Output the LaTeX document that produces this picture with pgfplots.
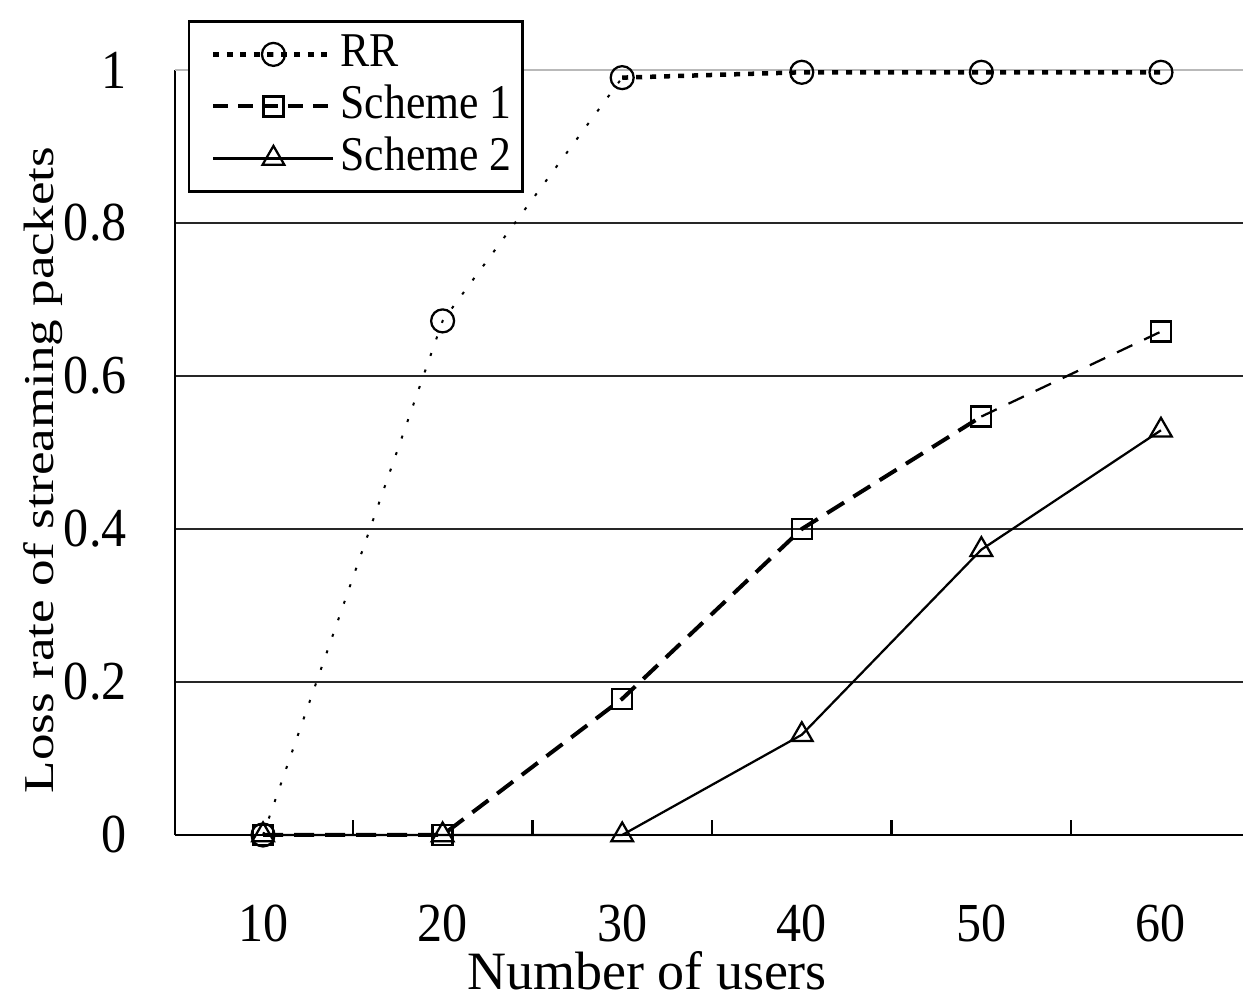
\documentclass[border=0pt]{standalone}
\usepackage{pgfplots}
\pgfplotsset{compat=1.18}
\usepackage{fontspec}
\setmainfont{Liberation Serif}
\newfontfamily\tickfont[FakeStretch=0.91]{Liberation Serif}
\newfontfamily\legfont[FakeStretch=0.9]{Liberation Serif}
\newfontfamily\ylabfont[FakeStretch=1.25]{Liberation Serif}
\begin{document}
\fontsize{10.8}{12}\selectfont
\begin{tikzpicture}
\begin{axis}[
  scale only axis, width=213.6pt, height=153pt,
  xmin=5.1, xmax=64.57, ymin=0, ymax=1,
  clip=false,
  axis x line*=bottom, axis y line*=left,
  axis line style={line width=0.45pt, black, -},
  xtick={10,20,30,40,50,60},
  minor xtick={15,25,35,45,55},
  major tick length=0pt, minor tick length=3pt, tick align=inside,
  minor tick style={line width=0.45pt, black},
  ytick={0,0.2,0.4,0.6,0.8},
  extra y ticks={1},
  extra y tick style={major grid style={gray!55, line width=0.45pt}},
  ymajorgrids,
  major grid style={black!85, line width=0.45pt},
  /pgf/number format/assume math mode=true,
  tick label style={font=\tickfont\fontsize{11}{12}\selectfont},
  yticklabel style={xshift=-5.9pt},
  xticklabel style={yshift=-10.2pt},
  xlabel={Number of users},
  xlabel style={at={(axis description cs:0.442,-0.2026)}, anchor=base, inner sep=0pt},
  ylabel={Loss rate of streaming packets},
  ylabel style={at={(axis description cs:-0.1142,0.477)}, anchor=base, inner sep=0pt,
    font=\ylabfont\fontsize{8.5}{10}\selectfont},
  legend style={at={(rel axis cs:0.0122,1.065)}, anchor=north west,
    draw=black, line width=0.45pt, font=\legfont\fontsize{9.7}{11}\selectfont,
    inner xsep=1.2pt, inner ysep=1.4pt,
    nodes={inner ysep=0.2pt, inner xsep=1pt, text height=7.4pt, text depth=2.6pt}},
  legend cell align=left,
  legend image code/.code={\path (0pt,0pt) (27.2pt,0pt);\draw[mark repeat=2,mark phase=2,#1] plot coordinates {(3.2pt,0pt)(15.2pt,0pt)(27.2pt,0pt)};},
]
\addlegendimage{black, line width=0.9pt, dash pattern=on 1.2pt off 1.5pt, mark=o, mark size=2.3pt, mark options={solid, line width=0.45pt}}
\addlegendentry{RR}
\addlegendimage{black, line width=0.8pt, dash pattern=on 3pt off 2pt, mark=square, mark size=2pt, mark options={solid, line width=0.45pt}}
\addlegendentry{Scheme 1}
\addlegendimage{black, line width=0.45pt, mark=triangle, mark size=2.5pt, mark options={solid, line width=0.45pt}}
\addlegendentry{Scheme 2}

% RR
\addplot[forget plot, black, line width=0.4pt, dash pattern=on 0.6pt off 2.9pt] coordinates {(10,0) (20,0.672) (30,0.990)};
\addplot[forget plot, black, line width=0.9pt, dash pattern=on 1.2pt off 1.6pt] coordinates {(30,0.990) (40,0.997) (50,0.997) (60,0.997)};
\addplot[forget plot, only marks, mark=o, mark size=2.3pt, mark options={black, line width=0.45pt}] coordinates {(10,0) (20,0.672) (30,0.990) (40,0.997) (50,0.997) (60,0.997)};
% Scheme 1
\addplot[forget plot, black, line width=0.8pt, dash pattern=on 4pt off 2.2pt] coordinates {(10,0) (20,0) (30,0.178) (40,0.400) (50,0.547)};
\addplot[forget plot, black, line width=0.45pt, dash pattern=on 3.4pt off 2.6pt] coordinates {(50,0.547) (60,0.658)};
\addplot[forget plot, only marks, mark=square, mark size=2pt, mark options={black, line width=0.45pt}] coordinates {(10,0) (20,0) (30,0.178) (40,0.400) (50,0.547) (60,0.658)};
% Scheme 2
\addplot[forget plot, black, line width=0.45pt, mark=triangle, mark size=2.5pt, mark options={solid, line width=0.45pt}] coordinates {(10,0) (20,0) (30,0) (40,0.131) (50,0.373) (60,0.529)};

\coordinate (bbbl) at (rel axis cs:-0.1639,-0.2196);
\coordinate (bbtr) at (rel axis cs:1,1.0915);
\end{axis}
\pgfresetboundingbox
\useasboundingbox (bbbl) rectangle (bbtr);
\end{tikzpicture}
\end{document}
